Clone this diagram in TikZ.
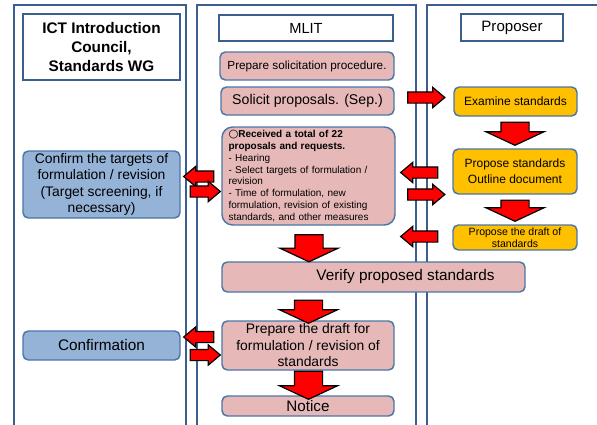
\documentclass[tikz,border=0pt]{standalone}
\usepackage{fontspec}
\setmainfont{Liberation Sans}
\newfontfamily\symfont{DejaVu Sans}
\usetikzlibrary{shapes.arrows}

\definecolor{lanecol}{HTML}{3A5F8F}
\definecolor{boxedge}{HTML}{4A76A8}
\definecolor{pinkfill}{HTML}{E6B9B8}
\definecolor{orangefill}{HTML}{FFC000}
\definecolor{bluefill}{HTML}{95B3D7}

\tikzset{
  sz/.style 2 args={minimum width=#1*0.75pt, minimum height=#2*0.75pt},
  fs/.style 2 args={font=\fontsize{#1}{#2}\selectfont},
  lane/.style={draw=lanecol, line width=1.5pt},
  headbox/.style={draw=lanecol, line width=1.1pt, fill=white, inner sep=0pt, align=center},
  mlitbox/.style={draw=boxedge, line width=1.1pt, fill=pinkfill, rounded corners=4pt, inner sep=0pt, align=center},
  propbox/.style={draw=boxedge, line width=1.1pt, fill=orangefill, rounded corners=4pt, inner sep=0pt, align=center},
  wgbox/.style={draw=boxedge, line width=1.1pt, fill=bluefill, rounded corners=4pt, inner sep=0pt, align=center},
  blk/.style n args={3}{single arrow, draw=black, fill=red, line width=0.9pt,
    minimum height=#1*0.75pt, single arrow head extend=#2*0.375pt, single arrow tip angle=#3},
  rarrow/.style={blk={37}{9}{80}, inner xsep=0pt, inner ysep=5*0.75pt},
  larrow/.style={rarrow, shape border rotate=180},
  darrow/.style={blk={#1}{30}{130}, inner ysep=0pt, inner xsep=13.5*0.75pt, shape border rotate=270}
}

\begin{document}
\begin{tikzpicture}[x=0.75pt, y=-0.75pt]
  \useasboundingbox (0,0) rectangle (597,425);
  \clip (0,0) rectangle (597,425);

  % lanes
  \draw[lane] (14,440) -- (14,5) -- (186,5) -- (186,440);
  \draw[lane] (197,440) -- (197,5) -- (416,5) -- (416,440);
  \draw[lane] (427,440) -- (427,5) -- (610,5);

  % lane heads
  \node[headbox, sz={157}{66}, font={\bfseries\fontsize{11.5}{14}\selectfont}] (wghead) at (101.5,47)
    {ICT Introduction\\Council,\\Standards WG};
  \node[headbox, sz={174}{26}, fs={11}{13}] (mlithead) at (306,28) {MLIT};
  \node[headbox, sz={102}{27}, fs={11.3}{13}] (prophead) at (512,27.5) {Proposer};

  % MLIT
  \node[mlitbox, sz={174}{28}, fs={8.8}{10}] (prepsol) at (307,66)
    {Prepare solicitation procedure.};
  \node[mlitbox, sz={173}{28}, fs={10.6}{12}] (solicit) at (307.5,101)
    {Solicit proposals. (Sep.)};
  \node[mlitbox, sz={173}{98}, fs={7.5}{8.9}, rounded corners=8pt, align=left,
        text width=120pt, inner xsep=4.5pt] (received) at (308.5,176)
    {{\symfont\fontsize{8.5}{8.9}\selectfont ○}\textbf{Received a total of 22}\\
     \textbf{proposals and requests.}\\
     - Hearing\\
     - Select targets of formulation /\\
     revision\\
     - Time of formulation, new\\
     formulation, revision of existing\\
     standards, and other measures};
  \node[mlitbox, sz={303}{30}, fs={11.5}{13}] (verify) at (373.5,277)
    {\hspace*{48pt}Verify proposed standards};
  \node[mlitbox, sz={172}{49}, fs={10.4}{12.4}] (prepdraft) at (308,345.5)
    {Prepare the draft for\\formulation / revision of\\standards};
  \node[mlitbox, sz={172}{20}, fs={11.4}{13}] (notice) at (308,406) {Notice};

  % proposer
  \node[propbox, sz={123}{29}, fs={9}{11}] (examine) at (515.5,101.5)
    {Examine standards};
  \node[propbox, sz={124}{45}, fs={9}{12}] (propstd) at (515,171.5)
    {Propose standards\\Outline document};
  \node[propbox, sz={124}{25}, fs={7.9}{9.3}] (propdraft) at (515,237.5)
    {Propose the draft of\\standards};

  % council
  \node[wgbox, sz={157}{67}, fs={10.4}{12.4}] (confirmtg) at (101.5,184.5)
    {Confirm the targets of\\formulation / revision\\(Target screening, if\\necessary)};
  \node[wgbox, sz={157}{29}, fs={11.5}{13}] (confirm) at (101.5,345.5) {Confirmation};

  % block arrows
  \node[rarrow] (a1) at (423,97.5) {};
  \node[darrow=23] (a2) at (515,130.5) {};
  \node[darrow=21] (a3) at (515,207.5) {};
  \node[larrow] (a4) at (422.5,172.5) {};
  \node[rarrow] (a5) at (423,194.5) {};
  \node[larrow] (a6) at (422.5,236.5) {};
  \node[larrow, minimum height=30*0.75pt] (l1) at (202,176.5) {};
  \node[rarrow, minimum height=30*0.75pt] (l2) at (202,191.5) {};
  \node[larrow, minimum height=30*0.75pt] (l3) at (202,337) {};
  \node[rarrow, minimum height=30*0.75pt] (l4) at (202,355) {};
  \node[darrow=27] (d1) at (309,245) {};
  \node[darrow=23] (d2) at (308.5,308.5) {};
  \node[darrow=28] (d3) at (308.5,382) {};
\end{tikzpicture}
\end{document}
